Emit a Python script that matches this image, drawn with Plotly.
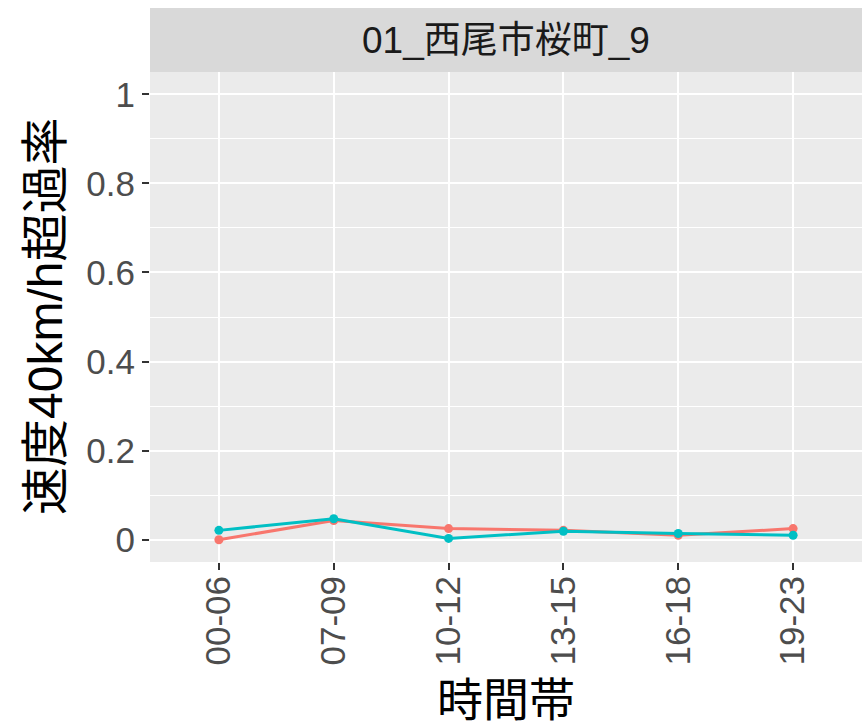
import plotly.graph_objects as go

categories = ["00-06", "07-09", "10-12", "13-15", "16-18", "19-23"]
series_red = [0.000, 0.043, 0.025, 0.021, 0.010, 0.025]
series_teal = [0.021, 0.047, 0.003, 0.019, 0.014, 0.010]
y_ticks = [0, 0.2, 0.4, 0.6, 0.8, 1.0]
y_tick_labels = ["0", "0.2", "0.4", "0.6", "0.8", "1"]
facet_title = "01_西尾市桜町_9"
x_title = "時間帯"
y_title = "速度40km/h超過率"

FONT = "Liberation Sans, Arial, Noto Sans CJK JP, sans-serif"

W, H = 862, 725
ml, mr, mt, mb = 150, 0, 72, 163
panel_h = H - mt - mb
strip_h = 64

fig = go.Figure()
for vals, color in [(series_red, "#F8766D"), (series_teal, "#00BFC4")]:
    fig.add_trace(go.Scatter(
        x=categories, y=vals, mode="lines+markers",
        line=dict(color=color, width=3),
        marker=dict(color=color, size=9),
        showlegend=False,
    ))

fig.update_layout(
    width=W, height=H,
    margin=dict(l=ml, r=mr, t=mt, b=mb, pad=0),
    paper_bgcolor="white",
    plot_bgcolor="#EBEBEB",
    font=dict(family=FONT, color="#4D4D4D", size=35),
    xaxis=dict(
        type="category", categoryorder="array", categoryarray=categories,
        range=[-0.6, 5.6],
        showgrid=True, gridcolor="white", gridwidth=2,
        zeroline=False, showline=False,
        ticks="outside", ticklen=7, tickwidth=2, tickcolor="#333333",
        tickangle=-90, ticklabelstandoff=-8,
        tickfont=dict(family=FONT, size=35, color="#4D4D4D"),
    ),
    yaxis=dict(
        range=[-0.05, 1.05],
        tickvals=y_ticks, ticktext=y_tick_labels,
        showgrid=True, gridcolor="white", gridwidth=2,
        minor=dict(dtick=0.1, tick0=0, showgrid=True, gridcolor="white", gridwidth=1, ticks=""),
        zeroline=False, showline=False,
        ticks="outside", ticklen=7, tickwidth=2, tickcolor="#333333",
        tickfont=dict(family=FONT, size=35, color="#4D4D4D"),
    ),
)

# facet strip
fig.add_shape(type="rect", xref="paper", yref="paper",
              x0=0, x1=1, y0=1, y1=1 + strip_h / panel_h,
              fillcolor="#D9D9D9", line=dict(width=0), layer="below")
fig.add_annotation(text=facet_title, xref="paper", yref="paper",
                   x=0.5, y=1 + strip_h / panel_h / 2, showarrow=False,
                   xanchor="center", yanchor="middle",
                   font=dict(family=FONT, size=37, color="#1A1A1A"))

# axis titles
fig.add_annotation(text=x_title, xref="paper", yref="paper",
                   x=0.5, y=0, yshift=-138, showarrow=False,
                   xanchor="center", yanchor="middle",
                   font=dict(family=FONT, size=46, color="black"))
fig.add_annotation(text=y_title, xref="paper", yref="paper",
                   x=0, y=0.5, xshift=-105, showarrow=False, textangle=-90,
                   xanchor="center", yanchor="middle",
                   font=dict(family=FONT, size=48, color="black"))

fig.write_html(
    "out.html",
    config={"displayModeBar": False},
    post_script="document.body.style.margin='0';document.body.style.overflow='hidden';",
)
